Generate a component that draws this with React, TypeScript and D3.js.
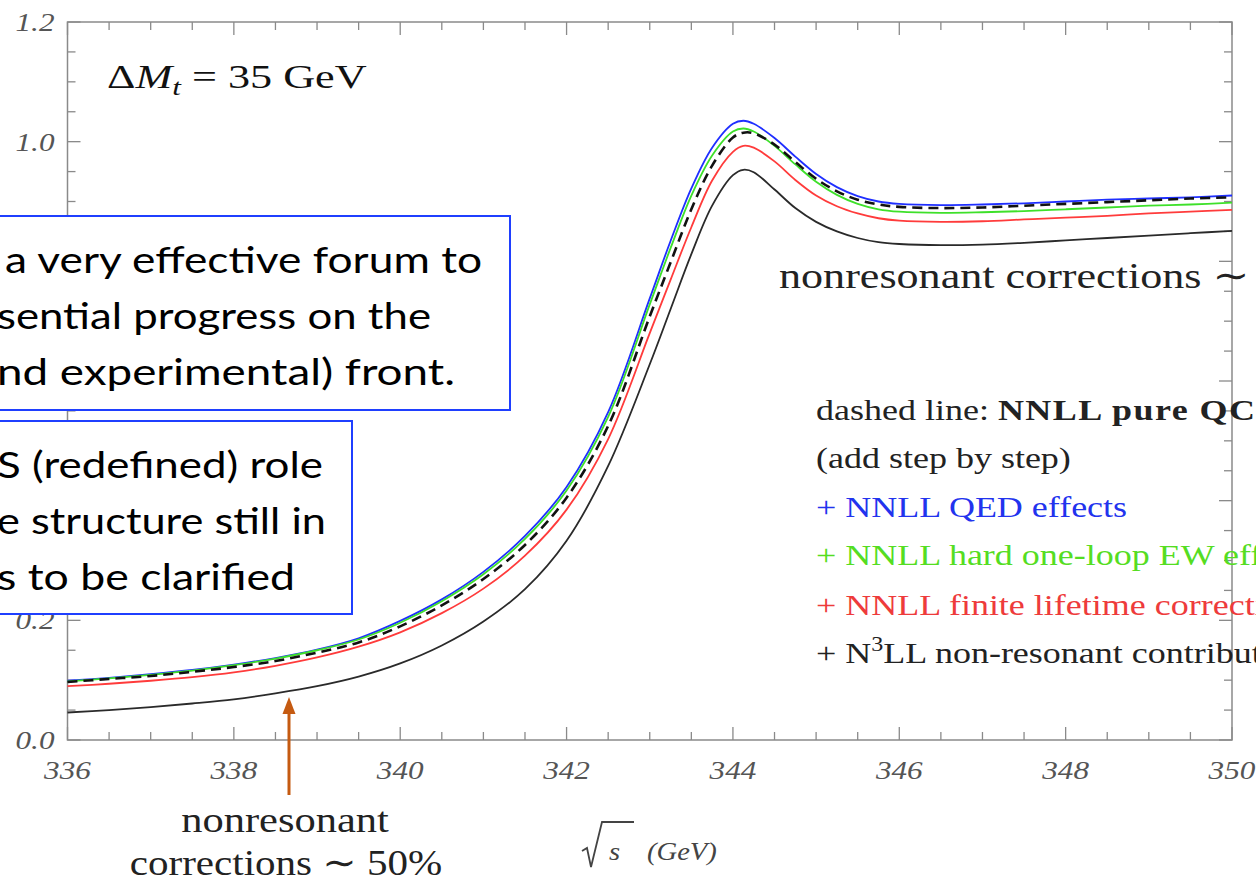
import React from "react";
import * as d3 from "d3";

// sqrt(s) in GeV
const energies = [336, 336.5, 337, 337.5, 338, 338.5, 339, 339.5, 340, 340.5, 341, 341.5, 342, 342.5, 343, 343.25, 343.5, 343.75, 344, 344.125, 344.25, 344.5, 344.75, 345, 345.25, 345.5, 345.75, 346, 346.5, 347, 347.5, 348, 348.5, 349, 349.5, 350];
// + NNLL QED effects (blue)
const qedSeries = [0.099, 0.104, 0.110, 0.117, 0.126, 0.137, 0.151, 0.170, 0.199, 0.235, 0.281, 0.341, 0.423, 0.548, 0.738, 0.834, 0.922, 0.990, 1.030, 1.035, 1.030, 1.006, 0.975, 0.946, 0.924, 0.909, 0.900, 0.896, 0.894, 0.895, 0.897, 0.900, 0.903, 0.905, 0.907, 0.910];
// + NNLL hard one-loop EW effects (green)
const ewSeries = [0.098, 0.103, 0.109, 0.116, 0.125, 0.136, 0.150, 0.168, 0.196, 0.232, 0.277, 0.336, 0.417, 0.540, 0.728, 0.822, 0.910, 0.977, 1.017, 1.022, 1.017, 0.993, 0.962, 0.933, 0.911, 0.896, 0.887, 0.883, 0.881, 0.882, 0.884, 0.887, 0.890, 0.893, 0.895, 0.898];
// NNLL pure QCD (dashed)
const qcdSeries = [0.097, 0.102, 0.107, 0.114, 0.122, 0.132, 0.146, 0.163, 0.190, 0.225, 0.269, 0.326, 0.405, 0.525, 0.708, 0.798, 0.887, 0.960, 1.007, 1.015, 1.014, 0.995, 0.966, 0.938, 0.917, 0.903, 0.895, 0.891, 0.889, 0.890, 0.893, 0.896, 0.899, 0.902, 0.905, 0.907];
// + NNLL finite lifetime corrections (red)
const lifetimeSeries = [0.090, 0.094, 0.099, 0.105, 0.113, 0.124, 0.138, 0.156, 0.180, 0.212, 0.253, 0.308, 0.385, 0.503, 0.680, 0.769, 0.857, 0.935, 0.983, 0.993, 0.990, 0.967, 0.936, 0.910, 0.892, 0.880, 0.872, 0.868, 0.866, 0.867, 0.870, 0.873, 0.876, 0.880, 0.883, 0.886];
// + N3LL non-resonant contributions (black)
const nonresSeries = [0.046, 0.050, 0.055, 0.061, 0.068, 0.078, 0.090, 0.106, 0.128, 0.158, 0.198, 0.252, 0.333, 0.458, 0.628, 0.720, 0.812, 0.893, 0.944, 0.953, 0.949, 0.920, 0.889, 0.866, 0.850, 0.839, 0.832, 0.829, 0.827, 0.828, 0.831, 0.835, 0.839, 0.843, 0.847, 0.851];

const xTickLabels = [336, 338, 340, 342, 344, 346, 348, 350];
const yTickLabels = [0.0, 0.2, 0.4, 0.6, 0.8, 1.0, 1.2];

const box1Lines = ["a very effective forum to", "sential progress on the", "nd experimental) front."];
const box2Lines = ["S (redefined) role", "e structure still in", "s to be clarified"];

const SERIF = "'Liberation Serif', 'DejaVu Serif', serif";
const SANS = "Lato, 'Open Sans', sans-serif";

export default function App() {
  const W = 1256, H = 884;
  const left = 67.5, right = 1232, top = 22, bottom = 740;
  const x = d3.scaleLinear().domain([336, 350]).range([left, right]);
  const y = d3.scaleLinear().domain([0, 1.2]).range([bottom, top]);

  const mk = (vals: number[]) =>
    d3.line<number>()
      .x((_, i) => x(energies[i]))
      .y((v) => y(v))
      .curve(d3.curveCatmullRom.alpha(0.5))(vals) as string;

  const xMinor = d3.range(336, 350.001, 0.5);
  const yMinor = d3.range(0, 1.2001, 0.05);
  const axisColor = "#8a8a8a";
  const fmt = d3.format(".1f");

  const isMajorX = (v: number) => Math.abs(v / 2 - Math.round(v / 2)) < 1e-6;
  const isMajorY = (v: number) => Math.abs(v / 0.2 - Math.round(v / 0.2)) < 1e-6;

  // overlay boxes (white, blue border) that hide part of the chart
  const box1 = { x: -5, y: 216, w: 515, h: 194 };
  const box2 = { x: -5, y: 421, w: 357, h: 193 };
  const hidden = (py: number) =>
    (py > box1.y + 4 && py < box1.y + box1.h - 4) || (py > box2.y + 4 && py < box2.y + box2.h - 4);

  const sx = 1.2;

  return (
    <div style={{ position: "absolute", left: 0, top: 0, width: W, height: H, overflow: "hidden", background: "#fff" }}>
      <svg width={W} height={H} style={{ display: "block" }}>
        <rect x={0} y={0} width={W} height={H} fill="#fff" />
        {/* frame */}
        <rect x={left} y={top} width={right - left} height={bottom - top} fill="none" stroke={axisColor} strokeWidth={1.5} />
        {xMinor.map((v, i) => {
          const len = isMajorX(v) ? 13 : 8;
          return (
            <g key={"xt" + i}>
              <line x1={x(v)} x2={x(v)} y1={bottom} y2={bottom - len} stroke={axisColor} strokeWidth={1.3} />
              <line x1={x(v)} x2={x(v)} y1={top} y2={top + len} stroke={axisColor} strokeWidth={1.3} />
            </g>
          );
        })}
        {yMinor.map((v, i) => {
          const len = isMajorY(v) ? 13 : 8;
          return (
            <g key={"yt" + i}>
              <line x1={left} x2={left + len} y1={y(v)} y2={y(v)} stroke={axisColor} strokeWidth={1.3} />
              <line x1={right} x2={right - len} y1={y(v)} y2={y(v)} stroke={axisColor} strokeWidth={1.3} />
            </g>
          );
        })}
        {xTickLabels.map((v) => (
          <text key={"xl" + v} transform={`translate(${x(v)},${bottom + 39}) scale(${sx},1)`} textAnchor="middle"
            fontFamily={SERIF} fontStyle="italic" fontSize={26} fill="#555">{v}</text>
        ))}
        {yTickLabels.filter((v) => !hidden(y(v))).map((v) => (
          <text key={"yl" + v} transform={`translate(${left - 13},${y(v) + 9}) scale(${sx},1)`} textAnchor="end"
            fontFamily={SERIF} fontStyle="italic" fontSize={26} fill="#555">{fmt(v)}</text>
        ))}

        {/* curves */}
        <path d={mk(nonresSeries)} fill="none" stroke="#2a2a2a" strokeWidth={1.8} />
        <path d={mk(lifetimeSeries)} fill="none" stroke="#ff3b3b" strokeWidth={1.8} />
        <path d={mk(qedSeries)} fill="none" stroke="#1f2fff" strokeWidth={1.8} />
        <path d={mk(ewSeries)} fill="none" stroke="#3ee02a" strokeWidth={1.8} />
        <path d={mk(qcdSeries)} fill="none" stroke="#111" strokeWidth={2.6} strokeDasharray="10 6" />

        {/* Delta M label */}
        <text transform={`translate(107,88) scale(1.3,1)`} fontFamily={SERIF} fontSize={34} fill="#111">
          <tspan>Δ</tspan>
          <tspan fontStyle="italic">M</tspan>
          <tspan fontStyle="italic" fontSize={24} dy={7}>t</tspan>
          <tspan dy={-7}> = 35 GeV</tspan>
        </text>

        {/* right annotation */}
        <text transform={`translate(779,288) scale(1.225,1)`} fontFamily={SERIF} fontSize={36} fill="#222">
          nonresonant corrections ∼ 5%
        </text>

        {/* legend */}
        <g fontFamily={SERIF} fontSize={30}>
          <text transform={`translate(816,420) scale(${sx},1)`} fill="#222">
            dashed line: <tspan fontWeight="bold" letterSpacing={1.2}>NNLL pure QCD</tspan>
          </text>
          <text transform={`translate(816,468) scale(${sx},1)`} fill="#222">(add step by step)</text>
          <text transform={`translate(816,517) scale(${sx},1)`} fill="#2233ee">+ NNLL QED effects</text>
          <text transform={`translate(816,565) scale(${sx},1)`} fill="#55dd22">+ NNLL hard one-loop EW effects</text>
          <text transform={`translate(816,615) scale(${sx},1)`} fill="#ee3b3b">+ NNLL finite lifetime corrections</text>
          <text transform={`translate(816,663) scale(${sx},1)`} fill="#222">
            + N<tspan fontSize={20} dy={-12}>3</tspan><tspan dy={12}>LL non-resonant contributions</tspan>
          </text>
        </g>

        {/* bottom annotation */}
        <text transform={`translate(285,832) scale(1.18,1)`} textAnchor="middle" fontFamily={SERIF} fontSize={36} fill="#222">nonresonant</text>
        <text transform={`translate(286,875) scale(1.14,1)`} textAnchor="middle" fontFamily={SERIF} fontSize={36} fill="#222">corrections ∼ 50%</text>

        {/* arrow */}
        <line x1={289} x2={289} y1={795} y2={710} stroke="#C55A11" strokeWidth={3} />
        <polygon points="289,697 282.5,714 295.5,714" fill="#C55A11" />

        {/* x axis title */}
        <path d="M582,851 L587,848 L591,867 L602,822 L634,822" fill="none" stroke="#444" strokeWidth={1.8} />
        <text transform={`translate(609,860) scale(1.1,1)`} fontFamily={SERIF} fontStyle="italic" fontSize={26} fill="#444">s</text>
        <text transform={`translate(647,860) scale(1.1,1)`} fontFamily={SERIF} fontStyle="italic" fontSize={26} fill="#444">(GeV)</text>

        {/* overlay boxes */}
        <rect x={box1.x} y={box1.y} width={box1.w} height={box1.h} fill="#fff" stroke="#1f3fff" strokeWidth={2} />
        {box1Lines.map((t, i) => (
          <text key={"b1" + i} x={i === 0 ? 5 : -3} y={273 + i * 56} fontFamily={SANS} fontSize={36} fill="#000"
            textLength={i === 0 ? 477 : i === 1 ? 434 : 458} lengthAdjust="spacingAndGlyphs">{t}</text>
        ))}
        <rect x={box2.x} y={box2.y} width={box2.w} height={box2.h} fill="#fff" stroke="#1f3fff" strokeWidth={2} />
        {box2Lines.map((t, i) => (
          <text key={"b2" + i} x={-3} y={478 + i * 56} fontFamily={SANS} fontSize={36} fill="#000"
            textLength={i === 0 ? 326 : i === 1 ? 329 : 298} lengthAdjust="spacingAndGlyphs">{t}</text>
        ))}
      </svg>
    </div>
  );
}
